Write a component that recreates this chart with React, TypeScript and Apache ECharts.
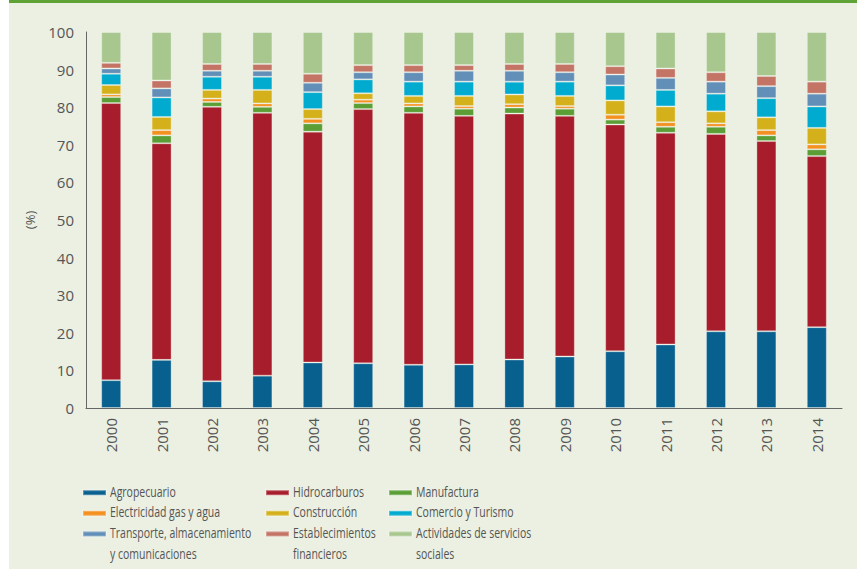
import React, { useEffect, useRef } from "react";
import * as echarts from "echarts";

const years = ["2000","2001","2002","2003","2004","2005","2006","2007","2008","2009","2010","2011","2012","2013","2014"];

const agropecuario   = [7.4, 12.8, 7.1, 8.6, 12.1, 11.9, 11.5, 11.6, 12.9, 13.7, 15.1, 16.9, 20.4, 20.4, 21.5];
const hidrocarburos  = [73.7, 57.6, 73.0, 69.9, 61.4, 67.6, 67.0, 66.1, 65.4, 64.0, 60.3, 56.3, 52.5, 50.6, 45.5];
const manufactura    = [1.6, 2.1, 1.3, 1.6, 2.2, 1.6, 1.7, 1.9, 1.6, 1.9, 1.3, 1.6, 1.9, 1.5, 1.8];
const electricidad   = [0.7, 1.4, 0.9, 0.9, 1.2, 0.9, 0.8, 0.7, 0.9, 0.7, 1.3, 1.2, 0.9, 1.4, 1.3];
const construccion   = [2.5, 3.5, 2.3, 3.6, 2.6, 1.7, 2.0, 2.7, 2.6, 2.7, 3.8, 4.2, 3.2, 3.4, 4.4];
const comercio       = [3.0, 5.2, 3.5, 3.5, 4.5, 3.7, 3.8, 3.8, 3.4, 3.8, 4.0, 4.4, 4.7, 5.1, 5.7];
const transporte     = [1.4, 2.4, 1.6, 1.6, 2.5, 1.9, 2.5, 2.9, 2.9, 2.5, 2.9, 3.2, 3.2, 3.2, 3.4];
const establecim     = [1.5, 2.1, 1.8, 1.8, 2.4, 1.9, 1.9, 1.5, 1.8, 2.2, 2.2, 2.5, 2.5, 2.7, 3.2];
const servicios      = [8.2, 12.9, 8.5, 8.5, 11.1, 8.8, 8.8, 8.8, 8.5, 8.5, 9.1, 9.7, 10.7, 11.7, 13.2];

const yTicks = { min: 0, max: 100, interval: 10 };

const seriesDefs = [
  { name: "Agropecuario", data: agropecuario, color: "#08608f" },
  { name: "Hidrocarburos", data: hidrocarburos, color: "#a71d2b" },
  { name: "Manufactura", data: manufactura, color: "#5a9e35" },
  { name: "Electricidad gas y agua", data: electricidad, color: "#f39020" },
  { name: "Construcción", data: construccion, color: "#d4b11b" },
  { name: "Comercio y Turismo", data: comercio, color: "#00abcf" },
  { name: "Transporte, almacenamiento\ny comunicaciones", data: transporte, color: "#628fb8" },
  { name: "Establecimientos\nfinancieros", data: establecim, color: "#c47465" },
  { name: "Actividades de servicios\nsociales", data: servicios, color: "#a8c78e" },
];

const legendCols = [
  { left: 82, names: [seriesDefs[0].name, seriesDefs[3].name, seriesDefs[6].name] },
  { left: 265, names: [seriesDefs[1].name, seriesDefs[4].name, seriesDefs[7].name] },
  { left: 388, names: [seriesDefs[2].name, seriesDefs[5].name, seriesDefs[8].name] },
];

const LEGEND_FONT = '"Open Sans", sans-serif';
const AXIS_FONT = '"Open Sans", sans-serif';
const ROW0 = 491.7;
const ROW_STEP = 20.6;

export default function App() {
  const ref = useRef<HTMLDivElement>(null);
  useEffect(() => {
    if (!ref.current) return;
    const chart = echarts.init(ref.current, undefined, { renderer: "svg" });
    const legendTexts: any[] = [];
    legendCols.forEach((c) => {
      c.names.forEach((n, i) => {
        n.split("\n").forEach((line, j) => {
          legendTexts.push({
            type: "text",
            x: c.left + 28,
            y: ROW0 + (i + j) * ROW_STEP,
            scaleX: 0.75,
            z: 10,
            silent: true,
            style: {
              text: line,
              fill: "#555",
              font: `14px ${LEGEND_FONT}`,
              align: "left",
              verticalAlign: "middle",
            },
          });
        });
      });
    });
    const legends: any[] = [];
    legendCols.forEach((c) => {
      c.names.forEach((n, i) => {
        legends.push({
          orient: "vertical",
          left: c.left,
          top: ROW0 - 2.5 + i * ROW_STEP,
          padding: 0,
          itemGap: 0,
          itemWidth: 23,
          itemHeight: 5,
          icon: "rect",
          selectedMode: false,
          data: [n],
          formatter: () => "",
          textStyle: { fontSize: 1, lineHeight: 1 },
        });
      });
    });
    chart.setOption({
      animation: false,
      backgroundColor: "#ffffff",
      graphic: [
        { type: "rect", shape: { x: 9, y: 0, width: 848, height: 569 }, style: { fill: "#ebf0e2" }, z: -10, silent: true },
        { type: "rect", shape: { x: 9, y: 0, width: 848, height: 3 }, style: { fill: "#5fa336" }, z: -9, silent: true },
        ...legendTexts,
      ],
      grid: { left: 86, right: 15, top: 32, bottom: 163, containLabel: false },
      legend: legends,
      xAxis: {
        type: "category",
        data: years,
        axisLine: { lineStyle: { color: "#666", width: 1 } },
        axisTick: { show: false },
        axisLabel: { rotate: 90, margin: 10, color: "#555", fontSize: 15, fontFamily: AXIS_FONT },
      },
      yAxis: {
        type: "value",
        min: yTicks.min,
        max: yTicks.max,
        interval: yTicks.interval,
        name: "(%)",
        nameLocation: "middle",
        nameRotate: 90,
        nameGap: 50,
        nameTextStyle: { color: "#555", fontSize: 13, fontFamily: AXIS_FONT },
        axisLine: { show: true, lineStyle: { color: "#666", width: 1 } },
        axisTick: { show: false },
        splitLine: { show: false },
        axisLabel: { margin: 12, color: "#555", fontSize: 15, fontFamily: AXIS_FONT },
      },
      series: seriesDefs.map((s) => ({
        name: s.name,
        type: "bar",
        stack: "total",
        barWidth: 20,
        data: s.data,
        itemStyle: { color: s.color, borderColor: "rgba(255,255,255,0.3)", borderWidth: 1 },
        emphasis: { disabled: true },
      })),
    });
    return () => chart.dispose();
  }, []);
  return <div ref={ref} style={{ position: "fixed", left: 0, top: 0, width: 857, height: 571 }} />;
}
